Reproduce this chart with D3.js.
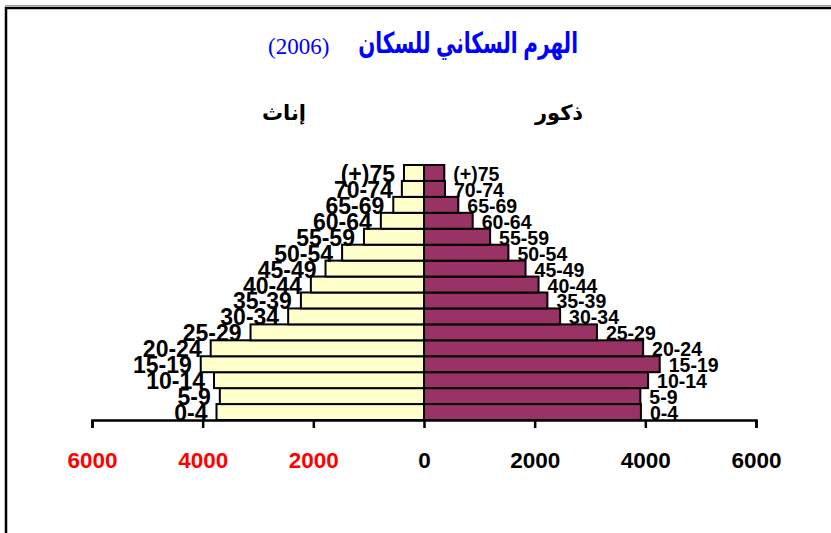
<!DOCTYPE html>
<html><head><meta charset="utf-8">
<script src="https://cdn.jsdelivr.net/npm/d3@7"></script>
<style>html,body{margin:0;padding:0;background:#fff;}svg{display:block;}</style>
</head><body>
<script>
const ageGroups = ["0-4","5-9","10-14","15-19","20-24","25-29","30-34","35-39","40-44","45-49","50-54","55-59","60-64","65-69","70-74","(+)75"];
const males   = [3920,3910,4050,4260,3960,3125,2460,2230,2070,1835,1525,1195,880,620,380,367];
const females = [3750,3690,3795,4035,3855,3135,2455,2225,2045,1780,1480,1085,780,555,400,362];
const tickValues = [-6000,-4000,-2000,0,2000,4000,6000];
const titleArabic = "الهرم السكاني للسكان";
const titleYear = "(2006)";
const femaleLabel = "إناث";
const maleLabel = "ذكور";

const W = 831, H = 533;
const svg = d3.select("body").append("svg").attr("width", W).attr("height", H);
const font = "Arial, 'Liberation Sans', 'DejaVu Sans', sans-serif";

// frame
svg.append("line").attr("x1",5).attr("x2",W).attr("y1",5.5).attr("y2",5.5).attr("stroke","#999").attr("stroke-width",1);
svg.append("path").attr("d",`M6,${H} V8 H${W}`).attr("fill","none").attr("stroke","#000").attr("stroke-width",2.5);

const x = d3.scaleLinear().domain([-6000,6000]).range([92,756]);
const y = d3.scaleBand().domain(ageGroups).range([420,165]).padding(0);

// bars
svg.append("g").selectAll("rect").data(ageGroups).join("rect")
  .attr("x",(d,i)=>x(-females[i])).attr("y",d=>y(d))
  .attr("width",(d,i)=>x(0)-x(-females[i])).attr("height",y.bandwidth())
  .attr("fill","#ffffcc").attr("stroke","#000").attr("stroke-width",2);
svg.append("g").selectAll("rect").data(ageGroups).join("rect")
  .attr("x",x(0)).attr("y",d=>y(d))
  .attr("width",(d,i)=>x(males[i])-x(0)).attr("height",y.bandwidth())
  .attr("fill","#993366").attr("stroke","#000").attr("stroke-width",2);

// labels
svg.append("g").selectAll("text").data(ageGroups).join("text")
  .attr("x",(d,i)=>x(-females[i])-9).attr("y",d=>y(d)+y.bandwidth()/2+1)
  .attr("text-anchor","end").attr("dominant-baseline","central")
  .attr("font-family",font).attr("font-weight","bold").attr("font-size",23)
  .attr("direction","ltr").text(d=>d);
svg.append("g").selectAll("text").data(ageGroups).join("text")
  .attr("x",(d,i)=>x(males[i])+9).attr("y",d=>y(d)+y.bandwidth()/2+1)
  .attr("text-anchor","start").attr("dominant-baseline","central")
  .attr("font-family",font).attr("font-weight","bold").attr("font-size",19.5)
  .attr("direction","ltr").text(d=>d);

// axis
const axis = d3.axisBottom(x).tickValues(tickValues).tickSize(8).tickPadding(24)
  .tickFormat(d=>Math.abs(d));
const ax = svg.append("g").attr("transform","translate(0,420)").call(axis);
ax.select(".domain").attr("stroke","#000").attr("stroke-width",2.5);
ax.selectAll(".tick line").attr("stroke","#000").attr("stroke-width",2.5);
ax.selectAll(".tick text").attr("font-family",font).attr("font-weight","bold").attr("font-size",22.5)
  .attr("fill",d=>d<0?"#ff0000":"#000");

// titles
const tA = svg.append("text").attr("x",0).attr("y",0).attr("text-anchor","end").attr("direction","ltr")
  .attr("font-family",font).attr("font-weight","bold").attr("font-size",29).attr("fill","#0000ff").text(titleArabic);
const wA = tA.node().getComputedTextLength();
tA.attr("transform",`translate(578,53) scale(${220/wA},1)`);
svg.append("text").attr("x",268).attr("y",54).attr("text-anchor","start")
  .attr("font-family","'Times New Roman', 'Liberation Serif', serif").attr("font-size",23).attr("fill","#0000ff").text(titleYear);
svg.append("text").attr("x",284).attr("y",120).attr("text-anchor","middle")
  .attr("font-family",font).attr("font-weight","bold").attr("font-size",21).text(femaleLabel);
svg.append("text").attr("x",559).attr("y",120).attr("text-anchor","middle")
  .attr("font-family",font).attr("font-weight","bold").attr("font-size",21).text(maleLabel);
</script>
</body></html>
